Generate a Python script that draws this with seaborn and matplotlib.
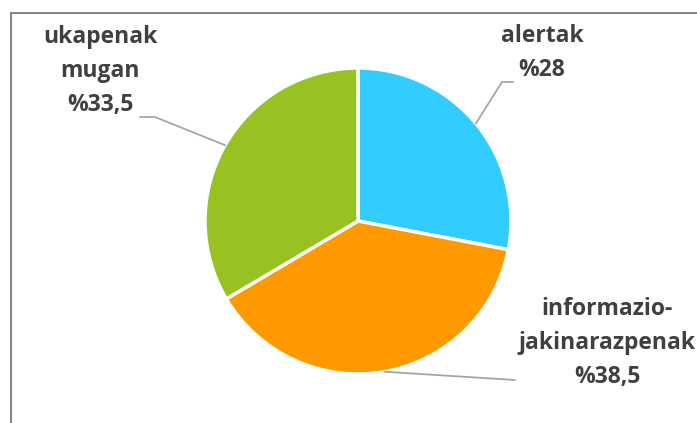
import numpy as np
import matplotlib.pyplot as plt
import matplotlib.patches as mpatches
import seaborn as sns

# datuak
categories = ["alertak", "informazio-\njakinarazpenak", "ukapenak\nmugan"]
values = [28, 38.5, 33.5]
value_labels = ["%28", "%38,5", "%33,5"]
colors = ["#33CCFF", "#FF9900", "#97C221"]

sns.set_theme(style="white")
plt.rcParams['font.family'] = ['Open Sans', 'DejaVu Sans']

W, H = 697, 423
fig = plt.figure(figsize=(W / 100, H / 100), dpi=100)
ax = fig.add_axes([0, 0, 1, 1])
ax.set_xlim(0, W)
ax.set_ylim(0, H)
ax.set_aspect('equal')
ax.axis('off')

cx, cy, r = 358, H - 221, 153
wedges, _ = ax.pie(values, colors=sns.color_palette(colors), startangle=90,
                   counterclock=False, center=(cx, cy), radius=r,
                   wedgeprops=dict(edgecolor='white', linewidth=2.5))
ax.set_xlim(0, W)
ax.set_ylim(0, H)

# kanpoko markoa
ax.add_patch(mpatches.Rectangle((10.5, -20), 720, H - 12.5 + 20, fill=False,
                                edgecolor='#868686', linewidth=1.5, zorder=0))

# etiketen kokapena (pixeletan) eta lerroen ukondoak
text_pos = [(542, H - 53), (607, H - 343), (100, H - 71)]
elbows = [[(502, H - 82), (513, H - 82)],
          [(515, H - 380)],
          [(155, H - 117), (140, H - 117)]]

for w, cat, vl, tp, el in zip(wedges, categories, value_labels, text_pos, elbows):
    ang = np.deg2rad((w.theta1 + w.theta2) / 2)
    ex, ey = cx + r * np.cos(ang), cy + r * np.sin(ang)
    xs = [ex] + [p[0] for p in el]
    ys = [ey] + [p[1] for p in el]
    ax.plot(xs, ys, color='#A6A6A6', linewidth=1.3, zorder=1)
    ax.text(tp[0], tp[1], f"{cat}\n{vl}", ha='center', va='center',
            fontsize=16.5, fontweight='bold', color='#404040', linespacing=1.58)

fig.savefig("out.png", dpi=100)
